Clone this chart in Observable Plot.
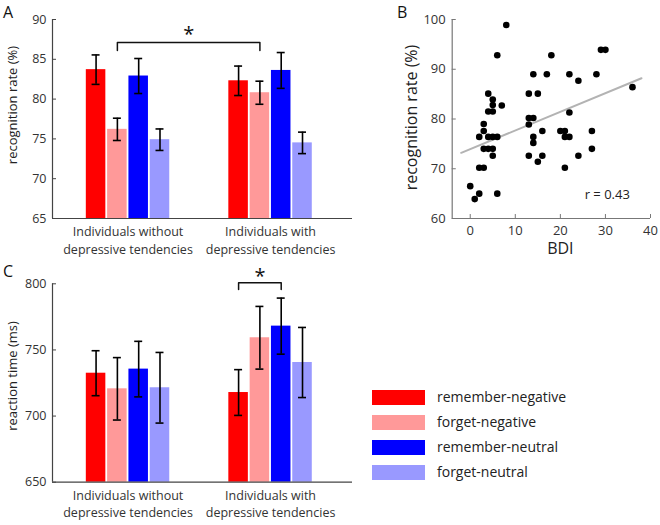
<!DOCTYPE html>
<html><head><meta charset="utf-8">
<script src="https://cdn.jsdelivr.net/npm/d3@7"></script>
<script src="https://cdn.jsdelivr.net/npm/@observablehq/plot@0.6"></script>
<style>
body{margin:0;background:#fff;font-family:"Open Sans",sans-serif;}
#root{position:relative;width:660px;height:525px;overflow:hidden;background:#fff;}
.panel{position:absolute;}
.letter{position:absolute;font-size:16px;color:#111;line-height:1;}
.leg{position:absolute;font-size:14px;color:#222;line-height:15px;}
.sw{position:absolute;width:53px;height:15px;}
</style></head><body><div id="root"></div>
<script>
// ---------- data ----------
const groupLine1 = ["Individuals without", "Individuals with"];
const groupLine2 = ["depressive tendencies", "depressive tendencies"];
const conditions = ["remember-negative", "forget-negative", "remember-neutral", "forget-neutral"];
const condColors = ["#ff0000", "#ff9999", "#0000ff", "#9999ff"];

// Panel A: recognition rate (%)
const recogMean = [[83.7, 76.2, 82.9, 74.9], [82.3, 80.8, 83.6, 74.5]];
const recogErr  = [[1.85, 1.4, 2.2, 1.35], [1.85, 1.45, 2.25, 1.35]];
const recogTicks = [65, 70, 75, 80, 85, 90];

// Panel C: reaction time (ms)
const rtMean = [[732.4, 720.6, 735.5, 721.4], [717.8, 759.2, 768.0, 740.5]];
const rtErr  = [[17.0, 23.6, 21.0, 26.7], [17.3, 23.7, 21.2, 26.5]];
const rtTicks = [650, 700, 750, 800];

// Panel B: BDI vs recognition rate
const bdi  = [8, 6, 4, 5, 5, 7, 4, 5, 3, 3, 2, 4, 5, 6, 3, 4, 5, 5, 2, 3, 0, 2, 1, 6,
              13, 15, 14, 17, 18, 13, 14, 13, 14, 14, 16, 13, 15, 16, 20, 21, 21, 22, 22, 22, 24, 21, 24, 27, 27, 28, 29, 30, 36];
const rate = [98.9, 92.8, 85.1, 83.9, 82.8, 82.7, 81.5, 81.5, 79.0, 77.6, 76.4, 76.4, 76.4, 76.4, 74.0, 74.0, 74.0, 72.6, 70.2, 70.2, 66.5, 65.0, 63.9, 65.0,
              85.1, 85.1, 89.0, 89.0, 92.8, 80.2, 80.2, 78.9, 76.4, 75.2, 77.6, 72.6, 71.4, 72.6, 77.6, 77.6, 76.4, 76.4, 81.3, 89.0, 87.7, 70.2, 72.6, 77.6, 74.0, 89.0, 93.9, 93.9, 86.4];
const fitX = [-2, 38];
const fitY = [73.2, 88.2];
const bdiTicks = [0, 10, 20, 30, 40];
const rateTicks = [60, 70, 80, 90, 100];
const rText = "r = 0.43";

// ---------- helpers ----------
const STEP = 0.1495, HALF = 0.0685, CAP = 0.028;
const xAt = (gi, ci) => gi + 1 + (ci - 1.5) * STEP;

function barPanel(o) {
  const rows = [];
  o.means.forEach((g, gi) => g.forEach((m, ci) => rows.push({gi, ci, cond: conditions[ci], mean: m, err: o.errs[gi][ci], xc: xAt(gi, ci)})));
  const xDom = [0.47, 2.575];
  const y0 = o.yDomain[0];
  const tickLen = 4 / 300 * (xDom[1] - xDom[0]);
  const bx1 = xAt(...o.bracket.from), bx2 = xAt(...o.bracket.to);
  const bpts = [{x: bx1, y: o.bracket.low}, {x: bx1, y: o.bracket.high}, {x: bx2, y: o.bracket.high}, {x: bx2, y: o.bracket.low}];
  return Plot.plot({
    width: 360, height: o.height, marginLeft: 52, marginRight: 8, marginTop: o.marginTop, marginBottom: o.marginBottom,
    style: {fontFamily: "Open Sans", fontSize: "12px", color: "#333", background: "transparent", overflow: "visible"},
    x: {domain: xDom, axis: null},
    y: {domain: o.yDomain, axis: null},
    color: {domain: conditions, range: condColors},
    marks: [
      Plot.rect(rows, {x1: d => d.xc - HALF, x2: d => d.xc + HALF, y1: y0, y2: "mean", fill: "cond"}),
      Plot.ruleX(rows, {x: "xc", y1: d => d.mean - d.err, y2: d => d.mean + d.err, stroke: "#000", strokeWidth: 1.6}),
      Plot.ruleY(rows, {y: d => d.mean + d.err, x1: d => d.xc - CAP, x2: d => d.xc + CAP, stroke: "#000", strokeWidth: 1.6}),
      Plot.ruleY(rows, {y: d => d.mean - d.err, x1: d => d.xc - CAP, x2: d => d.xc + CAP, stroke: "#000", strokeWidth: 1.6}),
      Plot.ruleX([xDom[0]], {y1: o.yDomain[0], y2: o.yDomain[1], stroke: "#444", strokeWidth: 1.2}),
      Plot.ruleY([y0], {x1: xDom[0], x2: xDom[1], stroke: "#444", strokeWidth: 1.2}),
      Plot.ruleY(o.yTicks, {y: d => d, x1: xDom[0], x2: xDom[0] + tickLen, stroke: "#444"}),
      Plot.text(o.yTicks, {x: xDom[0], y: d => d, text: d => String(d), textAnchor: "end", dx: -6, fontSize: 12.5, fill: "#333"}),
      Plot.text([0, 1], {x: d => d + 1, y: y0, text: d => groupLine1[d], dy: 13.5, fontSize: 12.5, fill: "#333"}),
      Plot.text([0, 1], {x: d => d + 1, y: y0, text: d => groupLine2[d], dy: 31, fontSize: 12.5, fill: "#333"}),
      Plot.line(bpts, {x: "x", y: "y", stroke: "#111", strokeWidth: 1.5}),
      Plot.text(["*"], {x: (bx1 + bx2) / 2, y: o.bracket.star, fontSize: 20, fill: "#111", dy: 4}),
      Plot.text([o.ylabel], {frameAnchor: "left", textAnchor: "middle", rotate: -90, dx: -40, dy: o.labelDy, fontSize: 13, fill: "#222"})
    ]
  });
}

const root = document.getElementById("root");
function place(node, left, top) {
  const d = document.createElement("div");
  d.className = "panel"; d.style.left = left + "px"; d.style.top = top + "px";
  d.appendChild(node); root.appendChild(d);
}

// Panel A
place(barPanel({
  means: recogMean, errs: recogErr, yDomain: [65, 90], yTicks: recogTicks,
  ylabel: "recognition rate (%)", labelDy: -14,
  bracket: {from: [0, 1], to: [1, 1], low: 86.1, high: 87.1, star: 88.6},
  height: 260, marginTop: 19, marginBottom: 42
}), 0, 0);

// Panel C
place(barPanel({
  means: rtMean, errs: rtErr, yDomain: [650, 800], yTicks: rtTicks,
  ylabel: "reaction time (ms)", labelDy: -7,
  bracket: {from: [1, 0], to: [1, 2], low: 795.7, high: 800.8, star: 808.3},
  height: 265, marginTop: 23.3, marginBottom: 43.3
}), 0, 260);

// Panel B
const pts = bdi.map((b, i) => ({bdi: b, rate: rate[i]}));
const fit = fitX.map((x, i) => ({x, y: fitY[i]}));
const bx0 = -4, by0 = 60;
const bPlot = Plot.plot({
  width: 290, height: 260, marginLeft: 81.7, marginRight: 10, marginTop: 19, marginBottom: 42,
  style: {fontFamily: "Open Sans", fontSize: "12px", color: "#333", background: "transparent", overflow: "visible"},
  x: {domain: [bx0, 40], axis: null},
  y: {domain: [by0, 100], axis: null},
  marks: [
    Plot.ruleX([bx0], {y1: by0, y2: 100, stroke: "#777", strokeWidth: 1.2}),
    Plot.ruleY([by0], {x1: bx0, x2: 40, stroke: "#777", strokeWidth: 1.2}),
    Plot.ruleY(rateTicks, {y: d => d, x1: bx0, x2: bx0 + 0.9, stroke: "#777"}),
    Plot.ruleX(bdiTicks, {x: d => d, y1: by0, y2: by0 + 0.8, stroke: "#777"}),
    Plot.text(rateTicks, {x: bx0, y: d => d, text: d => String(d), textAnchor: "end", dx: -6.5, fontSize: 13, fill: "#333"}),
    Plot.text(bdiTicks, {x: d => d, y: by0, text: d => String(d), lineAnchor: "top", dy: 7, fontSize: 13, fill: "#333"}),
    Plot.line(fit, {x: "x", y: "y", stroke: "#b3b3b3", strokeWidth: 2}),
    Plot.dot(pts, {x: "bdi", y: "rate", r: 3.3, fill: "#000"}),
    Plot.text([rText], {x: 30.4, y: 64.8, fontSize: 13, fill: "#222"}),
    Plot.text(["BDI"], {x: 20, y: by0, lineAnchor: "top", dy: 24, fontSize: 16, fill: "#222"}),
    Plot.text(["recognition rate (%)"], {frameAnchor: "left", textAnchor: "middle", rotate: -90, dx: -40, dy: -1.5, fontSize: 16, fill: "#222"})
  ]
});
place(bPlot, 370, 0);

// Panel letters
[["A", 3, 4], ["B", 397, 4], ["C", 3, 263]].forEach(([t, l, tp]) => {
  const d = document.createElement("div"); d.className = "letter"; d.textContent = t;
  d.style.left = l + "px"; d.style.top = tp + "px"; root.appendChild(d);
});

// Legend
conditions.forEach((c, i) => {
  const top = 390 + i * 25;
  const s = document.createElement("div"); s.className = "sw";
  s.style.left = "372px"; s.style.top = top + "px"; s.style.background = condColors[i];
  root.appendChild(s);
  const t = document.createElement("div"); t.className = "leg"; t.textContent = c;
  t.style.left = "437px"; t.style.top = (top - 1) + "px";
  root.appendChild(t);
});
</script></body></html>
